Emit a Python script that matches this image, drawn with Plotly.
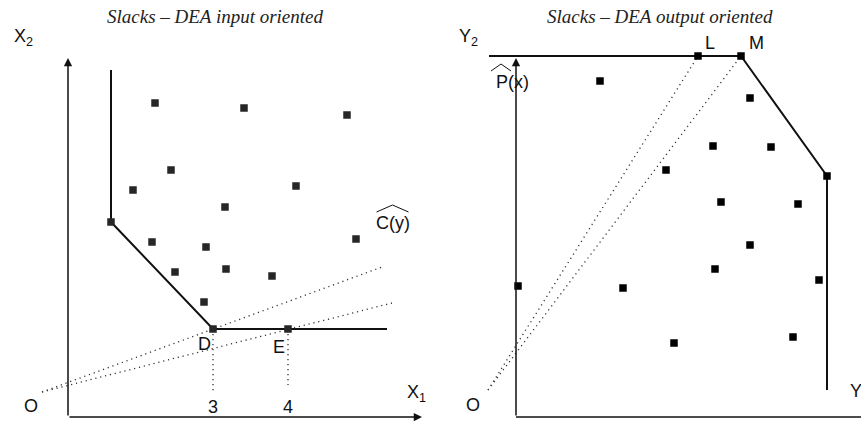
import plotly.graph_objects as go

# ---------------- Input-oriented panel (X1 / X2 plane) ----------------
# Observed DMUs (inefficient units inside the input set)
in_x1 = [8.7, 17.6, 27.9, 10.3, 6.5, 22.8, 15.7, 8.4, 13.8, 10.7, 15.8, 20.4, 13.6, 28.8]
in_x2 = [31.4, 30.9, 30.2, 24.7, 22.7, 23.1, 21.0, 17.5, 17.0, 14.5, 14.8, 14.1, 11.5, 17.8]
# Efficient frontier of C(y): vertical segment, facet, then the horizontal slack segment
in_front_x1 = [4.3, 4.3, 14.5, 31.9]
in_front_x2 = [34.7, 19.5, 8.8, 8.8]
# Frontier units (vertex, D, E)
in_vert_x1 = [4.3, 14.5, 22.0]
in_vert_x2 = [19.5, 8.8, 8.8]
# Rays from the origin O through D and through E
in_ray_origin = (-2.6, 2.5)
in_ray_ends_x1 = [31.4, 32.4]
in_ray_ends_x2 = [15.0, 11.4]
# Drop lines from D and E to the X1 axis
in_drop_x1 = [14.5, 22.0]
in_drop_top = [8.8, 8.8]
in_drop_bottom = [2.5, 3.2]
in_tick_text = ["3", "4"]

# ---------------- Output-oriented panel (Y1 / Y2 plane) ----------------
out_y1 = [8.4, 23.4, 19.7, 25.5, 15.0, 20.5, 28.2, 23.4, 19.9, 30.3, 0.2, 10.7, 15.8, 27.7]
out_y2 = [33.6, 31.9, 27.1, 27.0, 24.7, 21.5, 21.3, 17.2, 14.8, 13.7, 13.1, 12.9, 7.4, 8.0]
# Frontier of P(x): horizontal slack segment through L, facet from M, vertical segment
out_front_y1 = [-2.7, 22.5, 31.1, 31.1]
out_front_y2 = [36.1, 36.1, 24.1, 2.7]
# Frontier units (L, M, corner)
out_vert_y1 = [18.2, 22.5, 31.1]
out_vert_y2 = [36.1, 36.1, 24.1]
out_ray_origin = (-2.8, 2.7)
out_ray_ends_y1 = [18.2, 22.5]
out_ray_ends_y2 = [36.1, 36.1]

AXIS_TOP = 35.9
LEFT_X_AXIS_END = 35.4
RIGHT_X_AXIS_END = 36.0

W, H = 861, 423
SPLIT = 430 / W

fig = go.Figure()

DOT = dict(color="#333333", width=1.3, dash="1.2px,3.8px")
FRONT = dict(color="#111111", width=2)
INK = "#111111"

# ---- left panel traces ----
for ex, ey in zip(in_ray_ends_x1, in_ray_ends_x2):
    fig.add_trace(go.Scatter(x=[in_ray_origin[0], ex], y=[in_ray_origin[1], ey],
                             mode="lines", line=DOT, xaxis="x", yaxis="y", hoverinfo="skip"))
for dx, top, bot in zip(in_drop_x1, in_drop_top, in_drop_bottom):
    fig.add_trace(go.Scatter(x=[dx, dx], y=[top, bot], mode="lines", line=DOT,
                             xaxis="x", yaxis="y", hoverinfo="skip"))
fig.add_trace(go.Scatter(x=in_front_x1, y=in_front_x2, mode="lines", line=FRONT,
                         xaxis="x", yaxis="y"))
fig.add_trace(go.Scatter(x=in_x1 + in_vert_x1, y=in_x2 + in_vert_x2, mode="markers",
                         marker=dict(symbol="square", size=7.5, color="#262626"),
                         xaxis="x", yaxis="y"))

# ---- right panel traces ----
for ex, ey in zip(out_ray_ends_y1, out_ray_ends_y2):
    fig.add_trace(go.Scatter(x=[out_ray_origin[0], ex], y=[out_ray_origin[1], ey],
                             mode="lines", line=DOT, xaxis="x2", yaxis="y2", hoverinfo="skip"))
fig.add_trace(go.Scatter(x=[0, RIGHT_X_AXIS_END], y=[0, 0], mode="lines",
                         line=dict(color=INK, width=1.5), xaxis="x2", yaxis="y2"))
fig.add_trace(go.Scatter(x=out_front_y1, y=out_front_y2, mode="lines", line=FRONT,
                         xaxis="x2", yaxis="y2"))
fig.add_trace(go.Scatter(x=out_y1 + out_vert_y1, y=out_y2 + out_vert_y2, mode="markers",
                         marker=dict(symbol="square", size=7.5, color="#000000"),
                         xaxis="x2", yaxis="y2"))

ann = []


def axis_arrow(xr, yr, head, tail):
    ann.append(dict(xref=xr, yref=yr, axref=xr, ayref=yr, x=head[0], y=head[1],
                    ax=tail[0], ay=tail[1], text="", showarrow=True, arrowhead=2,
                    arrowsize=1.1, arrowwidth=1.5, arrowcolor=INK))


axis_arrow("x", "y", (0, AXIS_TOP), (0, 0))
axis_arrow("x", "y", (LEFT_X_AXIS_END, 0), (0, 0))
axis_arrow("x2", "y2", (0, AXIS_TOP), (0, 0))

SANS = dict(family="Liberation Sans, Arial, sans-serif", size=18, color=INK)


def label(xr, yr, x, y, text, font=SANS, xanchor="center", yanchor="middle"):
    ann.append(dict(xref=xr, yref=yr, x=x, y=y, text=text, showarrow=False,
                    font=font, xanchor=xanchor, yanchor=yanchor))


def wide_hat(axes, xa, ya, x_left, x_right, base, apex):
    """Estimator hat drawn above a label, placed relative to the label anchor."""
    fig.add_trace(go.Scatter(x=[xa + x_left, xa + (x_left + x_right) / 2, xa + x_right],
                             y=[ya + base, ya + apex, ya + base], mode="lines",
                             line=dict(color=INK, width=1),
                             xaxis=axes[0], yaxis=axes[1], hoverinfo="skip"))


# left labels
label("x", "y", -5.6, 38.0, "X<sub>2</sub>", xanchor="left")
label("x", "y", 33.7, 2.4, "X<sub>1</sub>", xanchor="left")
for tx, tt in zip(in_drop_x1, in_tick_text):
    label("x", "y", tx, 1.0, tt)
label("x", "y", 13.6, 7.3, "D")
label("x", "y", 21.1, 7.0, "E")
label("x", "y", -3.7, 1.1, "O")
c_lab = (32.45, 19.4)
label("x", "y", c_lab[0], c_lab[1], "C(y)")
wide_hat(("x", "y"), c_lab[0], c_lab[1], -1.6, 1.6, 1.1, 1.8)

# right labels
label("x2", "y2", -5.9, 38.0, "Y<sub>2</sub>", xanchor="left")
label("x2", "y2", 19.4, 37.4, "L")
label("x2", "y2", 24.0, 37.4, "M")
p_lab = (-0.4, 33.5)
label("x2", "y2", p_lab[0], p_lab[1], "P(x)")
wide_hat(("x2", "y2"), p_lab[0], p_lab[1], -2.1, -0.1, 1.1, 1.8)
label("x2", "y2", -4.3, 1.2, "O")
label("x2", "y2", 33.2, 2.5, "Y<sub>1</sub>", xanchor="left")

# panel titles
TITLE = dict(family="Liberation Serif, serif", size=19, color="#222222")
ann.append(dict(xref="paper", yref="paper", x=215 / W, y=1 - 16 / H,
                text="<i>Slacks – DEA input oriented</i>", showarrow=False,
                font=TITLE, xanchor="center", yanchor="middle"))
ann.append(dict(xref="paper", yref="paper", x=660 / W, y=1 - 16 / H,
                text="<i>Slacks – DEA output oriented</i>", showarrow=False,
                font=TITLE, xanchor="center", yanchor="middle"))

hidden = dict(visible=False, fixedrange=True)
fig.update_layout(
    width=W, height=H,
    margin=dict(l=0, r=0, t=0, b=0),
    paper_bgcolor="white", plot_bgcolor="white",
    showlegend=False,
    xaxis=dict(domain=[0, SPLIT], range=[-6.8, 36.2], **hidden),
    yaxis=dict(domain=[0, 1], range=[-0.6, 41.7], **hidden),
    xaxis2=dict(domain=[SPLIT, 1], range=[-8.6, 34.5], **hidden),
    yaxis2=dict(domain=[0, 1], range=[-0.6, 41.7], anchor="x2", **hidden),
    annotations=ann,
)

fig.write_html("out.html")
